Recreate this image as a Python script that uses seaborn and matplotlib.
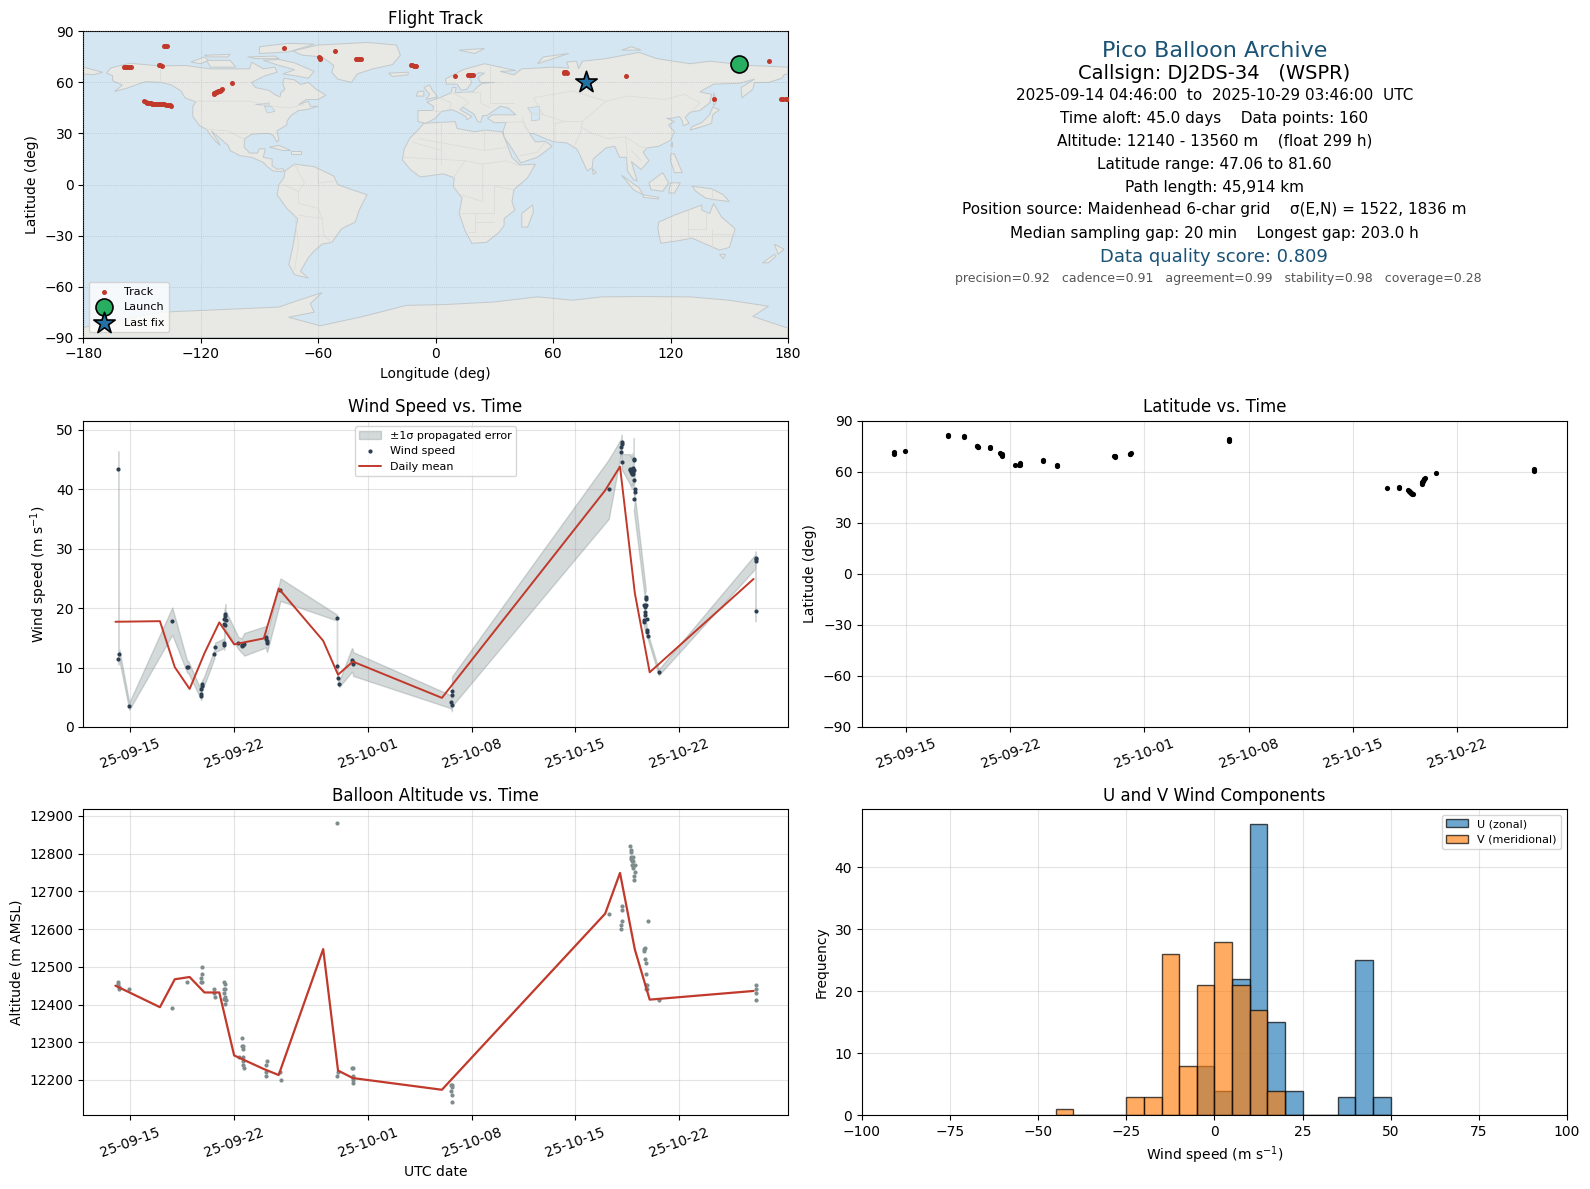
import numpy as np
import pandas as pd
import matplotlib
matplotlib.use("Agg")
import matplotlib.pyplot as plt
import matplotlib.dates as mdates
from matplotlib.patches import Polygon
import seaborn as sns

W, H = 1590, 1189
RED = "#c0392b"; DARK = "#2c3e50"; GREY = "#7f8c8d"; BLUE = "#1a5276"
OCEAN = "#d4e6f1"; LAND = "#e8e8e4"; COAST = "#c3c9cb"; BORDER = "#dcdcd8"

BASE = pd.Timestamp("2025-09-15")

# ---- map outlines (lon, lat) ----
north_america = [(-168,65.5),(-166,68.5),(-156,71.3),(-141,69.7),(-128,70),(-115,68),(-108,68),(-95,68),(-94,72),(-88,68),(-82,69),(-81,66),(-87,64),(-94,60),(-92,57),(-85,55.3),(-82,52.8),(-79.5,51.5),(-79,54),(-77,56),(-78,59),(-77.5,62.5),(-72,61.5),(-69,58.8),(-65,60),(-61,56),(-56,52.5),(-60,50),(-66,50),(-70,47),(-65,49),(-64,46),(-60,46),(-66,44),(-70,43.5),(-74,40.5),(-76,37),(-76,35),(-81,31.5),(-80,26),(-81,25),(-83,29),(-85,30),(-89,30),(-94,29.5),(-97.5,27),(-97.8,22),(-95,18.5),(-91,18.5),(-90,21),(-87,21),(-88,16),(-83.5,15),(-83.5,11),(-81,9),(-78,9.3),(-77.3,8),(-79,7.5),(-83,8),(-86,10.5),(-88,13),(-94,16),(-100,17),(-105,20),(-106,23),(-112,29),(-114.5,31.5),(-112,27),(-110,23),(-112,25),(-115,29),(-117,32.5),(-120.5,34.5),(-124,40),(-124,46),(-122.5,48.5),(-128,51),(-130,55),(-135,58.5),(-140,60),(-148,60.5),(-152,59),(-158,56.5),(-164,54.7),(-160,58.5),(-165,61),(-165,64)]
greenland = [(-73,78.5),(-60,82),(-35,83.5),(-20,82),(-18,76),(-22,70.5),(-32,68),(-40,65),(-43,60),(-50,62),(-53,66),(-52,70),(-58,75),(-68,76)]
baffin = [(-80,73.5),(-72,71.5),(-62,66.5),(-65,62.5),(-72,64),(-78,65),(-72,67.5),(-80,70),(-88,73)]
victoria = [(-117,73),(-105,73),(-102,69),(-115,69)]
ellesmere = [(-90,77),(-75,78),(-62,82.5),(-75,83),(-90,81)]
banks = [(-125,72),(-118,75),(-116,73),(-120,71)]
devon = [(-96,75),(-82,75.5),(-80,74),(-92,74)]
melville = [(-118,76),(-105,76.5),(-106,75),(-116,75)]
south_america = [(-77,8),(-72,12),(-62,10.5),(-52,5),(-50,0),(-44,-2.5),(-35,-6),(-39,-15),(-41,-22),(-48,-26),(-53,-34),(-58,-35),(-62,-39),(-65,-43),(-69,-51),(-65,-55),(-72,-53),(-75,-47),(-73,-37),(-70.5,-20),(-76,-14),(-81,-6),(-80,0),(-77.5,4)]
africa = [(-6,36),(10,37),(11,33),(20,31),(25,32),(34,31),(37,22),(39,16),(43,11.5),(51,12),(47,4),(40,-3),(39,-10),(40.5,-15),(35,-20),(35,-24),(32.5,-28),(26,-34),(18.5,-34.5),(15,-27),(12,-17),(13.5,-8),(9,-1),(9.5,4),(4,6.3),(-4,5),(-8,4.5),(-13,9),(-17,14.5),(-16,21),(-13,27.5),(-9,32)]
eurasia = [(-9,37),(-9,43.5),(-1.5,43.5),(-1,46),(-4.5,48.5),(2,51),(8,54),(8.5,57),(10.5,57),(10,54),(19,54.5),(21.5,57.5),(24,59.5),(30,60),(23,60),(21.5,63),(25,65.5),(22,65.7),(17.5,62),(18.5,60),(16,56),(13,55.5),(11,59),(5.5,59),(5,62),(14,67.5),(25,71),(41,67),(33,66.5),(40,64.5),(44,68),(60,69),(68,68.5),(67,72),(72,72.5),(73,68),(75,72.5),(87,74),(104,77.7),(113,74),(130,71),(140,72.5),(160,70),(170,69.5),(180,69),(180,65),(178,64.5),(177,62.5),(170,60),(163,60),(162,56),(156.5,51),(156,57),(163,62),(155,59.5),(142,59),(135,54.5),(141,53),(140,48),(135,43.5),(130,42.5),(127.5,39.5),(129.5,36),(126.5,34.5),(126,37.5),(124.5,40),(121,39),(118,39),(122,37),(119,35),(122,31),(120,26),(114,22.5),(108,21.5),(106,19),(109,14),(105,8.8),(100,13.5),(103,2),(101,3),(98,8),(97.5,16),(94,16),(91.5,22.5),(87,21.5),(80.5,15),(80,10),(77.5,8),(73,19),(72,21),(67,24.5),(61,25),(57,26.5),(50,30),(48,30),(51,25),(56,25.5),(59.5,22.5),(52,16),(43.5,12.8),(39,21),(35,28),(34.5,31.5),(36,36.5),(30,36.3),(26.5,39),(29,41),(41,41),(37,45),(33,46),(28,42),(26,40.5),(24,40.5),(23,36.5),(21.5,37),(19.5,41.5),(14,45.5),(12.5,44),(18.5,40),(16,38),(15.5,40),(10.5,43),(8.5,44),(3,43),(0,39),(-5,36)]
chukotka_west = [(-180,69),(-170,66),(-175,64.5),(-180,65)]
australia = [(114,-22),(122,-18),(129,-15),(136,-12),(136,-15),(140,-17),(142,-11),(146,-19),(153,-26),(150,-37),(145,-38.5),(138,-35),(131,-31.5),(124,-33),(115,-34.5),(113.5,-26)]
tasmania = [(145,-41),(148,-41),(147,-43.5)]
nz_north = [(173,-35),(178,-38),(175,-41),(174,-38)]
nz_south = [(173,-41),(174,-42),(170,-46),(167,-46)]
madagascar = [(49.5,-12),(50,-16),(47,-25),(44,-25),(44,-17)]
britain = [(-5,50),(1,51.5),(-2,56),(-3,58.5),(-6,57),(-3,53)]
ireland = [(-10,52),(-6,52),(-6,55),(-9,54.5)]
iceland = [(-24,65.5),(-14,66),(-14,64.5),(-22,63.5)]
svalbard = [(12,79),(25,80),(20,77)]
novaya = [(52,71),(68,77),(55,75)]
severnaya = [(95,79),(105,79),(100,81)]
sakhalin = [(142,54),(143.5,49),(142,46),(142,50)]
japan = [(130,32),(136,34),(141,36),(141.5,41),(145,44),(141.5,45.5),(140,41),(136,36.5),(131,34)]
sumatra = [(95,5.5),(104,-2),(106,-6),(101,-3)]
java = [(106,-6),(114,-7.5),(114,-8.5),(106,-7.5)]
borneo = [(109,1),(116,7),(119,1),(116,-4),(110,-3)]
sulawesi = [(119,-5),(120,1),(125,1),(122,-5)]
new_guinea = [(131,-1),(141,-2.5),(147,-6),(150,-10),(143,-9),(138,-8),(133,-4)]
philippines = [(120,18),(122,18),(126,7),(122,7),(120,14)]
sri_lanka = [(80,9.5),(82,7),(80.5,6)]
taiwan = [(121,25),(121,22),(120,23)]
cuba = [(-85,22),(-80,23),(-74,20),(-78,20)]
hispaniola = [(-74,19.5),(-69,19.5),(-69,18),(-74,18)]
antarctica = [(-180,-90),(-180,-84),(-150,-77),(-140,-75),(-100,-73),(-80,-72),(-70,-68),(-58,-63.5),(-64,-70),(-62,-75),(-75,-78),(-59,-83),(-37,-77.5),(-15,-71),(5,-70.5),(30,-69),(52,-66),(70,-68),(85,-66),(104,-65.8),(130,-66),(150,-68),(170,-71.5),(162,-77.5),(180,-84.4),(180,-90)]
land_shapes = [north_america, greenland, baffin, victoria, ellesmere, banks, devon, melville, south_america, africa, eurasia, chukotka_west, australia, tasmania, nz_north, nz_south, madagascar, britain, ireland, iceland, svalbard, novaya, severnaya, sakhalin, japan, sumatra, java, borneo, sulawesi, new_guinea, philippines, sri_lanka, taiwan, cuba, hispaniola, antarctica]
caspian = [(47,45),(53,46),(53,38),(49,37.5),(49,42)]
superior = [(-92,47),(-85,48),(-85,46.5)]
michigan = [(-87.5,46),(-84,46),(-82,43),(-86,42)]
water_shapes = [caspian, superior, michigan]
borders = [
    [(-141,60),(-141,69.7)], [(-123,49),(-95,49),(-83,46),(-75,45),(-67,47)], [(-117,32.5),(-106,31.5),(-97,26)],
    [(-70,-18),(-58,-20),(-57,-30),(-53,-34)], [(-72,-18),(-70,-35),(-72,-50)], [(-70,-11),(-60,-14),(-58,-20)], [(-78,0),(-70,-4),(-70,-11)], [(-72,12),(-67,1),(-70,-4)], [(-60,8),(-60,1),(-52,2)],
    [(-9,27),(25,20),(25,32)], [(25,20),(37,22)], [(-16,16),(15,14),(24,12),(36,14),(43,11)], [(9,4),(15,14)], [(24,12),(24,-10),(13,-6)], [(30,-1),(30,-17),(12,-17)], [(20,-17),(20,-28),(17,-28)], [(30,-22),(20,-22)], [(40,-3),(30,-1)], [(3,37),(3,12)], [(-12,25),(3,20)],
    [(28,70),(28,48),(40,48)], [(14,54),(23,54),(23,48),(28,45)], [(2,51),(8,48),(7,44)], [(8,54),(14,51),(17,48),(14,46)], [(-1.5,43.5),(3,42.5)],
    [(48,42),(55,41),(66,37),(75,37),(80,42),(87,49),(98,52),(117,50),(127,53),(135,48),(131,43)], [(55,41),(50,51),(70,55),(87,49)], [(48,30),(45,37),(44,40)], [(61,25),(61,36),(66,37)], [(75,37),(74,30),(70,21)], [(80,30),(88,27),(97,28),(98,16)], [(74,34),(80,30)], [(97,28),(105,22),(108,21.5)], [(100,20),(105,14)], [(36,36.5),(44,37),(48,30)], [(43,17),(52,19),(56,25)],
    [(141,-2.5),(141,-9)], [(129,-15),(129,-31.5)], [(138,-17),(138,-26),(129,-26)], [(141,-26),(141,-38)], [(141,-29),(153,-29)],
]

# ---- track ----
track_lon = [-138.8,-138.0,-137.3,-141.3,-140.6,-140.0,-159.4,-158.5,-157.5,-156.5,-155.6,-77.3,-59.4,-59.0,-58.9,-51.2,-40.8,-40.0,-39.2,-38.3,-12.8,-12.0,-11.1,-10.5,-10.0,9.7,16.5,17.0,17.7,18.3,18.9,65.4,65.8,66.4,66.9,97.4,142.0,170.1,176.5,177.5,178.8,179.7,-104.2,-113.4,-113.0,-112.5,-112.0,-111.5,-111.0,-110.3,-109.8,-109.2,-148.8,-148.0,-147.2,-146.3,-145.5,-144.8,-144.0,-143.2,-142.5,-141.5,-140.5,-139.5,-138.5,-137.5,-136.7,-135.8,-135.0]
track_lat = [81.2,81.3,81.2,70.2,70.0,69.9,68.9,68.9,68.9,68.9,68.9,80.0,75.0,74.4,74.0,78.3,73.6,73.6,73.6,73.6,70.2,70.0,69.7,69.5,69.4,63.6,64.2,64.4,64.2,64.4,64.2,66.0,65.7,66.0,65.8,63.6,50.1,72.4,50.0,50.0,50.5,50.5,59.5,53.4,53.7,54.0,54.3,54.6,54.9,55.2,55.6,56.0,48.9,48.5,48.1,47.9,47.7,47.5,47.4,47.3,47.1,47.2,47.1,47.2,47.1,46.9,46.7,46.5,46.4]
launch_lon, launch_lat = [154.9], [70.8]
last_lon, last_lat = [76.8], [60.5]

# ---- text panel ----
info_title = "Pico Balloon Archive"
info_call = "Callsign: DJ2DS-34   (WSPR)"
info_lines = ["2025-09-14 04:46:00  to  2025-10-29 03:46:00  UTC",
              "Time aloft: 45.0 days    Data points: 160",
              "Altitude: 12140 - 13560 m    (float 299 h)",
              "Latitude range: 47.06 to 81.60",
              "Path length: 45,914 km",
              "Position source: Maidenhead 6-char grid    σ(E,N) = 1522, 1836 m",
              "Median sampling gap: 20 min    Longest gap: 203.0 h"]
info_score = "Data quality score: 0.809"
info_sub = "precision=0.92   cadence=0.91   agreement=0.99   stability=0.98   coverage=0.28"

# ---- wind (days after 2025-09-15) ----
wind_t = [-0.81,-0.80,-0.74,-0.065,2.83,3.84,3.91,4.74,4.78,4.80,4.85,4.85,5.66,5.72,6.33,6.33,6.35,6.37,6.35,6.40,6.40,6.42,7.29,7.50,7.56,7.61,7.68,9.16,9.16,9.20,9.22,10.12,13.93,13.93,14.00,14.07,14.94,15.01,15.01,21.61,21.68,21.68,21.68,32.24,33.05,33.05,33.12,33.12,33.12,33.66,33.70,33.72,33.72,33.79,33.79,33.79,33.86,33.86,33.86,33.93,33.93,33.93,33.93,33.99,33.99,33.93,34.73,34.73,34.60,34.76,34.69,34.67,34.67,34.80,34.60,34.60,34.80,34.80,34.87,35.61,42.14,42.14,42.14,42.14]
wind_v = [43.4,11.4,12.2,3.5,17.8,10.1,10.1,5.6,5.2,6.4,7.2,6.9,12.2,13.4,14.1,13.8,17.4,17.2,18.1,18.6,19.0,18.0,14.1,13.7,13.8,13.8,13.9,15.2,14.8,14.4,14.1,23.1,18.4,10.3,8.2,7.2,11.3,10.9,10.6,4.25,3.75,5.4,6.0,40.0,47.1,46.3,47.9,47.6,44.6,43.4,43.2,43.2,42.9,43.4,42.9,42.6,43.6,42.6,42.9,43.3,45.1,44.9,41.6,40.0,39.6,38.4,21.9,21.5,20.5,20.5,20.2,19.4,18.9,18.1,18.0,17.7,16.3,16.0,15.3,9.2,27.9,28.3,28.5,19.5]
wind_e = [3.0,0.9,0.9,0.6,2.3,1.0,1.0,0.8,0.7,0.8,0.8,0.8,0.7,0.8,0.8,0.8,1.5,1.5,1.6,1.7,1.7,1.6,1.0,1.2,1.4,1.6,1.9,1.8,1.7,1.6,1.5,1.9,0.5,0.5,0.5,0.5,2.0,2.0,2.0,1.1,1.1,1.8,2.5,5.0,1.3,1.3,1.3,1.3,1.3,2.5,2.5,2.5,2.5,2.5,2.5,2.5,2.5,2.5,2.5,2.5,3.5,3.5,2.5,1.8,1.8,2.0,1.4,1.4,1.0,1.0,0.9,0.9,0.9,0.8,0.8,0.8,0.6,0.6,0.5,0.5,1.2,1.2,1.0,1.7]
daily_t = [-1,2,3,4,5,6,7,9,10,13,14,15,21,32,33,34,35,42]
wind_daily = [17.7,17.8,10.07,6.4,12.4,17.6,13.9,14.9,23.3,14.5,8.8,11.0,4.9,39.8,43.8,22.5,9.2,24.9]
alt_daily = [12450,12393,12467,12473,12432,12432,12265,12229,12213,12547,12225,12205,12174,12641,12749,12546,12413,12436]

# ---- altitude ----
alt_t = [13.93,-0.81,-0.81,-0.74,-0.74,-0.065,2.83,3.84,4.85,4.85,4.78,4.78,4.85,5.66,5.66,5.72,6.33,6.40,6.33,6.40,6.33,6.40,6.46,6.33,6.40,7.54,7.54,7.61,7.61,7.34,7.61,7.61,7.61,7.68,9.22,9.16,9.16,9.16,10.10,10.17,13.93,14.00,14.94,15.01,15.01,15.01,15.01,15.01,21.68,21.61,21.68,21.61,21.68,21.68,32.24,33.12,33.12,33.12,33.05,33.05,33.66,33.72,33.72,33.72,33.86,33.72,33.86,33.79,33.79,33.86,33.99,33.86,33.99,33.93,33.93,34.87,34.67,34.60,34.60,34.67,34.73,34.73,34.80,34.73,34.80,34.73,35.61,42.14,42.14,42.14,42.14]
alt_v = [12881,12460,12455,12447,12441,12441,12391,12460,12500,12481,12470,12460,12460,12441,12431,12420,12460,12455,12441,12441,12431,12420,12412,12415,12401,12311,12290,12290,12282,12261,12261,12250,12240,12232,12250,12240,12221,12211,12221,12200,12211,12221,12232,12232,12211,12205,12200,12192,12187,12187,12181,12171,12160,12142,12640,12661,12651,12622,12611,12600,12820,12810,12804,12791,12791,12786,12780,12780,12770,12770,12770,12762,12751,12741,12730,12622,12550,12547,12542,12521,12510,12481,12452,12452,12441,12441,12412,12452,12441,12431,12412]

# ---- latitude ----
lat_t = [-0.81,-0.81,-0.065,2.83,2.83,3.85,3.85,4.74,4.78,4.80,4.84,5.66,5.66,6.33,6.36,6.40,6.43,6.46,7.29,7.56,7.65,7.65,9.16,9.16,10.12,10.12,13.93,14.00,14.05,15.01,15.05,15.10,21.65,21.68,21.70,32.30,33.12,33.12,33.70,33.75,33.79,33.83,33.86,33.90,33.93,34.00,34.05,34.62,34.65,34.67,34.70,34.73,34.76,34.80,34.87,35.61,42.14,42.14,42.14]
lat_v = [71.4,70.3,72.4,81.6,81.0,80.9,80.2,75.4,75.0,74.7,74.4,74.6,73.8,71.2,70.7,70.2,69.7,69.2,64.1,64.1,64.9,64.3,67.0,66.2,63.9,63.2,69.6,69.2,68.8,70.2,70.7,71.0,79.2,78.6,78.1,50.6,51.3,50.5,49.4,49.0,48.7,48.4,48.1,47.8,47.5,47.2,47.06,52.9,53.4,54.0,54.5,54.9,55.5,56.0,56.5,59.4,61.5,60.9,60.5]

# ---- histogram ----
bin_edges = [-45,-40,-35,-30,-25,-20,-15,-10,-5,0,5,10,15,20,25,30,35,40,45,50]
bin_centers = [-42.5,-37.5,-32.5,-27.5,-22.5,-17.5,-12.5,-7.5,-2.5,2.5,7.5,12.5,17.5,22.5,27.5,32.5,37.5,42.5,47.5]
u_counts = [0,0,0,0,0,0,0,0,8,4,22,47,15,4,0,0,3,25,3]
v_counts = [1,0,0,0,3,3,26,8,21,28,21,17,4,0,0,0,0,0,0]

time_ticks = ["2025-09-15","2025-09-22","2025-10-01","2025-10-08","2025-10-15","2025-10-22"]
XLIM = (pd.Timestamp("2025-09-11 19:55"), pd.Timestamp("2025-10-29 07:40"))
XLIM_LAT = (pd.Timestamp("2025-09-12 00:40"), pd.Timestamp("2025-10-29 09:00"))


def to_dates(days):
    return BASE + pd.to_timedelta(np.asarray(days, dtype=float), unit="D")


sns.set_style("ticks")
plt.rcParams.update({"font.family": ["DejaVu Sans"], "font.size": 10, "axes.titlesize": 12,
                     "axes.labelsize": 10, "xtick.labelsize": 10, "ytick.labelsize": 10,
                     "legend.fontsize": 8, "axes.edgecolor": "black", "text.color": "black",
                     "xtick.color": "black", "ytick.color": "black", "axes.labelcolor": "black",
                     "xtick.bottom": True, "ytick.left": True, "grid.color": "#b0b0b0",
                     "grid.linewidth": 0.8})

fig = plt.figure(figsize=(W / 100, H / 100), dpi=100)


def make_ax(x0, x1, y0, y1):
    return fig.add_axes([x0 / W, 1 - y1 / H, (x1 - x0) / W, (y1 - y0) / H])


LX, RX = (83.2, 788.0), (862.0, 1566.8)
R1, R2, R3 = (31.4, 337.7), (420.8, 727.0), (809.2, 1115.4)
ax_map = make_ax(*LX, *R1)
ax_txt = make_ax(*RX, *R1)
ax_wind = make_ax(*LX, *R2)
ax_lat = make_ax(*RX, *R2)
ax_alt = make_ax(*LX, *R3)
ax_hist = make_ax(*RX, *R3)

# map
ax_map.set_facecolor(OCEAN)
for shp in land_shapes:
    ax_map.add_patch(Polygon(shp, closed=True, facecolor=LAND, edgecolor=COAST, linewidth=0.7, zorder=1))
for shp in water_shapes:
    ax_map.add_patch(Polygon(shp, closed=True, facecolor=OCEAN, edgecolor=COAST, linewidth=0.5, zorder=1.1))
for ln in borders:
    ax_map.plot(*zip(*ln), color=BORDER, linewidth=0.6, zorder=1.2)
ax_map.grid(True, color="#a0a8ac", linewidth=0.5, linestyle=":", alpha=0.7, zorder=1.5)
ax_map.set_axisbelow(False)
sns.scatterplot(x=track_lon, y=track_lat, ax=ax_map, color=RED, s=13, linewidth=0, label="Track", zorder=3, legend=False)
sns.scatterplot(x=launch_lon, y=launch_lat, ax=ax_map, color="#27ae60", s=150, edgecolor="black", linewidth=1.2, label="Launch", zorder=4, legend=False)
sns.scatterplot(x=last_lon, y=last_lat, ax=ax_map, color="#2471a3", marker="*", s=260, edgecolor="black", linewidth=1.2, label="Last fix", zorder=4, legend=False)
ax_map.set_xlim(-180, 180)
ax_map.set_ylim(-90, 90)
ax_map.set_xticks(list(range(-180, 181, 60)))
ax_map.set_yticks(list(range(-90, 91, 30)))
ax_map.set_xlabel("Longitude (deg)")
ax_map.set_ylabel("Latitude (deg)")
ax_map.set_title("Flight Track", pad=5)
ax_map.legend(loc="lower left", fontsize=8, framealpha=0.8)

# text panel
ax_txt.axis("off")
ax_txt.set_xlim(0, 1); ax_txt.set_ylim(0, 1)


def frac(y_view):
    return 1 - (y_view + 0.8 - 31) / 302


ax_txt.text(0.5, frac(50), info_title, ha="center", va="center", fontsize=16, color=BLUE)
ax_txt.text(0.5, frac(72), info_call, ha="center", va="center", fontsize=14)
for yv, s in zip([93, 116, 138, 161, 184, 206, 229], info_lines):
    ax_txt.text(0.5, frac(yv), s, ha="center", va="center", fontsize=11)
ax_txt.text(0.5, frac(253), info_score, ha="center", va="center", fontsize=13, color=BLUE)
ax_txt.text(0.505, frac(274), info_sub, ha="center", va="center", fontsize=9, color="#555555")

# wind
wt = to_dates(wind_t)
wv = np.array(wind_v); we = np.array(wind_e)
ax_wind.fill_between(wt, wv - we, wv + we, color=GREY, alpha=0.33, label="±1σ propagated error")
sns.scatterplot(x=wt, y=wv, ax=ax_wind, color=DARK, s=9, linewidth=0, label="Wind speed", legend=False)
sns.lineplot(x=to_dates(daily_t), y=wind_daily, ax=ax_wind, color=RED, linewidth=1.4, label="Daily mean", estimator=None, sort=False, legend=False)
ax_wind.set_ylim(0, 51.5)
ax_wind.set_ylabel("Wind speed (m s$^{-1}$)")
ax_wind.set_title("Wind Speed vs. Time")
ax_wind.legend(loc="upper center", fontsize=8)

# latitude
sns.scatterplot(x=to_dates(lat_t), y=lat_v, ax=ax_lat, color="black", s=14, linewidth=0, legend=False)
ax_lat.set_ylim(-90, 90)
ax_lat.set_yticks(list(range(-90, 91, 30)))
ax_lat.set_ylabel("Latitude (deg)")
ax_lat.set_title("Latitude vs. Time")

# altitude
sns.scatterplot(x=to_dates(alt_t), y=alt_v, ax=ax_alt, color=GREY, s=9, linewidth=0, legend=False)
sns.lineplot(x=to_dates(daily_t), y=alt_daily, ax=ax_alt, color=RED, linewidth=1.6, estimator=None, sort=False, legend=False)
ax_alt.set_ylim(12106, 12918)
ax_alt.set_yticks(list(range(12200, 12901, 100)))
ax_alt.set_xlabel("UTC date")
ax_alt.set_ylabel("Altitude (m AMSL)")
ax_alt.set_title("Balloon Altitude vs. Time")

for ax in (ax_wind, ax_lat, ax_alt):
    ax.set_xlim(*(XLIM_LAT if ax is ax_lat else XLIM))
    ax.set_xticks(pd.to_datetime(time_ticks))
    ax.xaxis.set_major_formatter(mdates.DateFormatter("%y-%m-%d"))
    ax.tick_params(axis="x", labelrotation=20)
    ax.grid(True, alpha=0.35)
    if ax is not ax_alt:
        ax.set_xlabel("")

# histogram
EDGE = (0, 0, 0, 0.7)
sns.histplot(x=bin_centers, weights=u_counts, bins=bin_edges, ax=ax_hist, color="#1f77b4", alpha=0.65, edgecolor=EDGE, linewidth=1.0, label="U (zonal)")
sns.histplot(x=bin_centers, weights=v_counts, bins=bin_edges, ax=ax_hist, color="#ff7f0e", alpha=0.65, edgecolor=EDGE, linewidth=1.0, label="V (meridional)")
ax_hist.set_xlim(-100, 100)
ax_hist.set_ylim(0, 49.35)
ax_hist.set_xlabel("Wind speed (m s$^{-1}$)")
ax_hist.set_ylabel("Frequency")
ax_hist.set_title("U and V Wind Components")
ax_hist.grid(True, alpha=0.35)
ax_hist.legend(loc="upper right", fontsize=8)

for ax in (ax_map, ax_wind, ax_lat, ax_alt, ax_hist):
    for s in ax.spines.values():
        s.set_visible(True); s.set_color("black"); s.set_linewidth(0.8)

fig.savefig("out.png", dpi=100, facecolor="white")
